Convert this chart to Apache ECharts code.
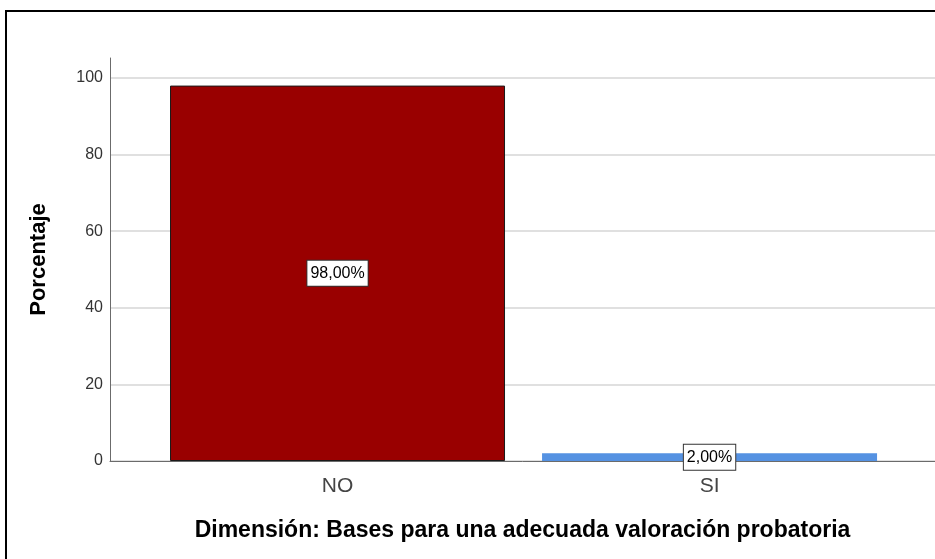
<!DOCTYPE html>
<html>
<head>
<meta charset="utf-8">
<script src="https://cdn.jsdelivr.net/npm/echarts@6/dist/echarts.min.js"></script>
<style>
  html, body { margin: 0; padding: 0; background: #fff; }
  #chart { width: 935px; height: 559px; }
</style>
</head>
<body>
<div id="chart"></div>
<script>
// datos del gráfico
const categories = ['NO', 'SI'];
const percentages = [98, 2];
const yTicks = [0, 20, 40, 60, 80, 100];
const barColors = ['#990000', '#5592e2'];

const chart = echarts.init(document.getElementById('chart'));
const font = '"Liberation Sans", Arial, sans-serif';

const seriesData = percentages.map((v, i) => ({
  value: [i, v],
  itemStyle: i === 0
    ? { color: barColors[i], borderColor: '#1a1a1a', borderWidth: 1 }
    : { color: barColors[i], borderWidth: 0 }
}));

chart.setOption({
  animation: false,
  graphic: [{
    type: 'rect',
    shape: { x: 6, y: 11, width: 1200, height: 800 },
    style: { fill: 'none', stroke: '#000', lineWidth: 2 },
    silent: true
  }],
  grid: { left: 110, right: 0, top: 58, bottom: 98 },
  xAxis: {
    type: 'value',
    min: -0.6116,
    max: 1.606,
    name: 'Dimensión: Bases para una adecuada valoración probatoria',
    nameLocation: 'middle',
    nameGap: 58,
    nameTextStyle: { fontFamily: font, fontSize: 23, fontWeight: 'bold', color: '#000' },
    axisLine: { onZero: false, lineStyle: { color: '#6b6b6b', width: 1 } },
    axisTick: { show: false },
    splitLine: { show: false },
    axisLabel: {
      customValues: [0, 1],
      formatter: v => categories[Math.round(v)] || '',
      fontFamily: font,
      fontSize: 21,
      color: '#444',
      margin: 15
    }
  },
  yAxis: {
    type: 'value',
    min: 0,
    max: 105.2,
    name: 'Porcentaje',
    nameLocation: 'middle',
    nameGap: 60,
    nameTextStyle: { fontFamily: font, fontSize: 22, fontWeight: 'bold', color: '#000' },
    axisLine: { show: true, onZero: false, lineStyle: { color: '#6b6b6b', width: 1 } },
    axisTick: { show: false },
    axisLabel: {
      customValues: yTicks,
      fontFamily: font,
      fontSize: 16,
      color: '#333',
      margin: 7
    },
    splitLine: {
      showMaxLine: false,
      lineStyle: { color: '#d6d6d6', width: 1.5 }
    },
    interval: 20
  },
  series: [{
    type: 'bar',
    barWidth: 335,
    data: seriesData,
    label: {
      show: true,
      position: 'inside',
      formatter: p => p.value[1].toFixed(2).replace('.', ',') + '%',
      fontFamily: font,
      fontSize: 16,
      color: '#000',
      backgroundColor: '#fff',
      borderColor: '#333',
      borderWidth: 1,
      padding: [5, 3, 4, 3]
    }
  }]
});
</script>
</body>
</html>
